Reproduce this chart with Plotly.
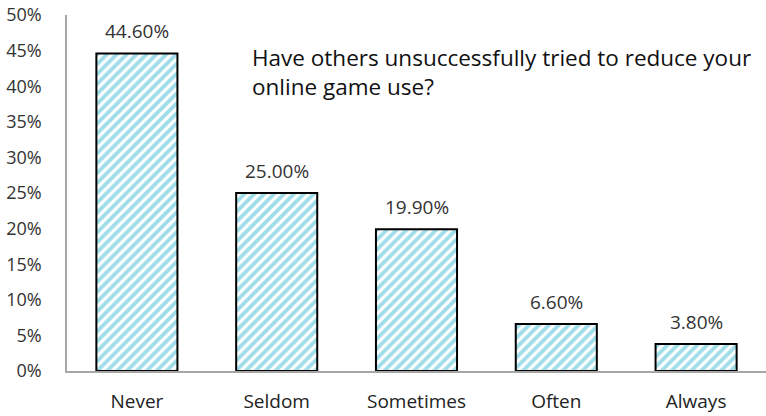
import plotly.graph_objects as go

categories = ["Never", "Seldom", "Sometimes", "Often", "Always"]
values = [44.6, 25.0, 19.9, 6.6, 3.8]
y_ticks = [0, 5, 10, 15, 20, 25, 30, 35, 40, 45, 50]
title_text = "Have others unsuccessfully tried to reduce your<br>online game use?"

FONT = "Open Sans, Liberation Sans, sans-serif"

fig = go.Figure(
    go.Bar(
        x=categories,
        y=values,
        width=0.58,
        marker=dict(
            color="white",
            line=dict(color="black", width=2),
            pattern=dict(shape="/", fgcolor="#40bbd3", bgcolor="white",
                         size=7, solidity=0.55, fillmode="overlay"),
        ),
        hoverinfo="skip",
    )
)

# value labels above each bar
for c, v in zip(categories, values):
    fig.add_annotation(x=c, y=v, text=f"{v:.2f}%", showarrow=False,
                       yanchor="bottom", yshift=7,
                       font=dict(family=FONT, size=19, color="#333333"))

fig.add_annotation(xref="paper", yref="paper", x=0.262, y=0.93,
                   xanchor="left", yanchor="top", align="left",
                   text=title_text, showarrow=False,
                   font=dict(family=FONT, size=22.5, color="#111111"))

fig.update_layout(
    width=766, height=416,
    margin=dict(l=67, r=0, t=15, b=45),
    plot_bgcolor="white", paper_bgcolor="white",
    showlegend=False,
    font=dict(family=FONT, size=18, color="#333333"),
)
fig.update_xaxes(
    type="category", range=[-0.5, 4.5], automargin=False,
    showline=True, linecolor="#a6a6a6", linewidth=1.5,
    ticks="outside", ticklen=0, tickcolor="white",
    ticklabelstandoff=12,
    tickfont=dict(family=FONT, size=19, color="#222222"),
    showgrid=False,
)
fig.update_yaxes(
    range=[0, 50], tickvals=y_ticks, automargin=False,
    ticktext=[f"{t}%" for t in y_ticks],
    showline=True, linecolor="#a6a6a6", linewidth=1.5,
    showgrid=False, zeroline=False,
    ticklabelstandoff=20,
    tickfont=dict(family=FONT, size=18, color="#333333"),
)

fig.write_html("out.html")
